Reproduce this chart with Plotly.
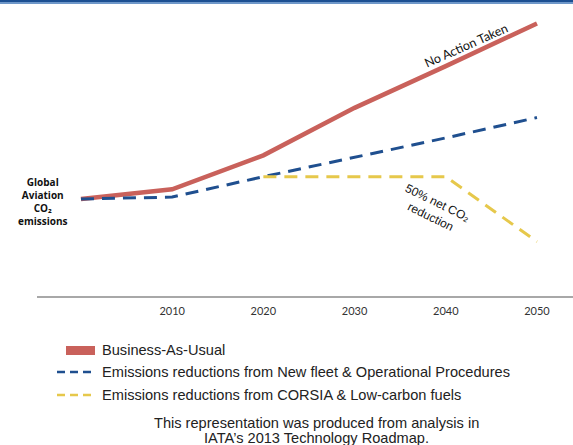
import plotly.graph_objects as go

# Emissions index (2000 = 100), by decade
years = [2000, 2010, 2020, 2030, 2040, 2050]
business_as_usual = [100, 110, 145, 194, 237, 281]
new_fleet_ops = [100, 102, 123, 143, 163, 184]
corsia_years = [2020, 2030, 2040, 2050]
corsia_low_carbon = [123, 123, 123, 56]
tick_years = [2010, 2020, 2030, 2040, 2050]
tick_labels = ["2010", "2020", "2030", "2040", "2050"]

W, H = 573, 445
RED = "#C9615B"
BLUE = "#1F4F8F"
YELLOW = "#E6C84B"


def px(x):
    return x / W


def py(y):
    return 1 - y / H


fig = go.Figure()
fig.add_trace(go.Scatter(x=years, y=business_as_usual, mode="lines",
                         line=dict(color=RED, width=4.5), name="Business-As-Usual"))
fig.add_trace(go.Scatter(x=years, y=new_fleet_ops, mode="lines",
                         line=dict(color=BLUE, width=3, dash="13px,8px"),
                         name="Emissions reductions from New fleet & Operational Procedures"))
fig.add_trace(go.Scatter(x=corsia_years, y=corsia_low_carbon, mode="lines",
                         line=dict(color=YELLOW, width=3, dash="13px,8px"),
                         name="Emissions reductions from CORSIA & Low-carbon fuels"))

shapes = [
    # header band
    dict(type="rect", xref="paper", yref="paper", x0=0, x1=1, y0=py(2), y1=1,
         fillcolor="#1B4F92", line_width=0),
    dict(type="rect", xref="paper", yref="paper", x0=0, x1=1, y0=py(4), y1=py(2),
         fillcolor="#6E97C9", line_width=0),
    # legend symbols
    dict(type="rect", xref="paper", yref="paper", x0=px(66), x1=px(95),
         y0=py(355), y1=py(346), fillcolor=RED, line_width=0),
    dict(type="line", xref="paper", yref="paper", x0=px(57), x1=px(95),
         y0=py(372), y1=py(372), line=dict(color=BLUE, width=2.5, dash="8px,5px")),
    dict(type="line", xref="paper", yref="paper", x0=px(57), x1=px(95),
         y0=py(395), y1=py(395), line=dict(color=YELLOW, width=2.5, dash="8px,5px")),
]


def label(text, x, y, font, xanchor="center", **kw):
    return dict(text=text, x=px(x), y=py(y), xref="paper", yref="paper",
                xanchor=xanchor, yanchor="middle", showarrow=False, font=font, **kw)


legend_font = dict(family="Liberation Sans, Arial", size=14.6, color="#222222")
note_font = dict(family="Liberation Sans, Arial", size=14.6, color="#222222")
annotations = [
    label("No Action Taken", 466, 45,
          dict(family="Lato, Open Sans", size=12.5, color="#111111"), textangle=-24),
    label("<b>Global<br>Aviation<br>CO\u2082<br>emissions</b>", 43, 202,
          dict(family="Open Sans", size=10, color="#111111"), align="center"),
    label("50% net CO\u2082<br>reduction", 434, 210,
          dict(family="Liberation Sans, Arial", size=12, color="#111111"),
          textangle=26, align="center"),
    label("Business-As-Usual", 100, 350, legend_font, xanchor="left"),
    label("Emissions reductions from New fleet & Operational Procedures", 100, 372,
          legend_font, xanchor="left"),
    label("Emissions reductions from CORSIA & Low-carbon fuels", 100, 395,
          legend_font, xanchor="left"),
    label("This representation was produced from analysis in", 316, 423, note_font),
    label("IATA\u2019s 2013 Technology Roadmap.", 316, 438, note_font),
]

fig.update_layout(
    width=W, height=H,
    margin=dict(l=0, r=0, t=0, b=0),
    paper_bgcolor="white", plot_bgcolor="white",
    showlegend=False,
    shapes=shapes,
    annotations=annotations,
    xaxis=dict(domain=[px(37), 1], range=[1995.18, 2053.95],
               tickvals=tick_years, ticktext=tick_labels,
               showgrid=False, zeroline=False, showline=True,
               linecolor="#A8A8A8", linewidth=1.5, ticks="",
               ticklabelstandoff=4,
               tickfont=dict(family="Lato, Open Sans", size=11, color="#333333")),
    yaxis=dict(domain=[py(296), py(0)], range=[0, 305.2], visible=False),
)

fig.write_html("out.html")
